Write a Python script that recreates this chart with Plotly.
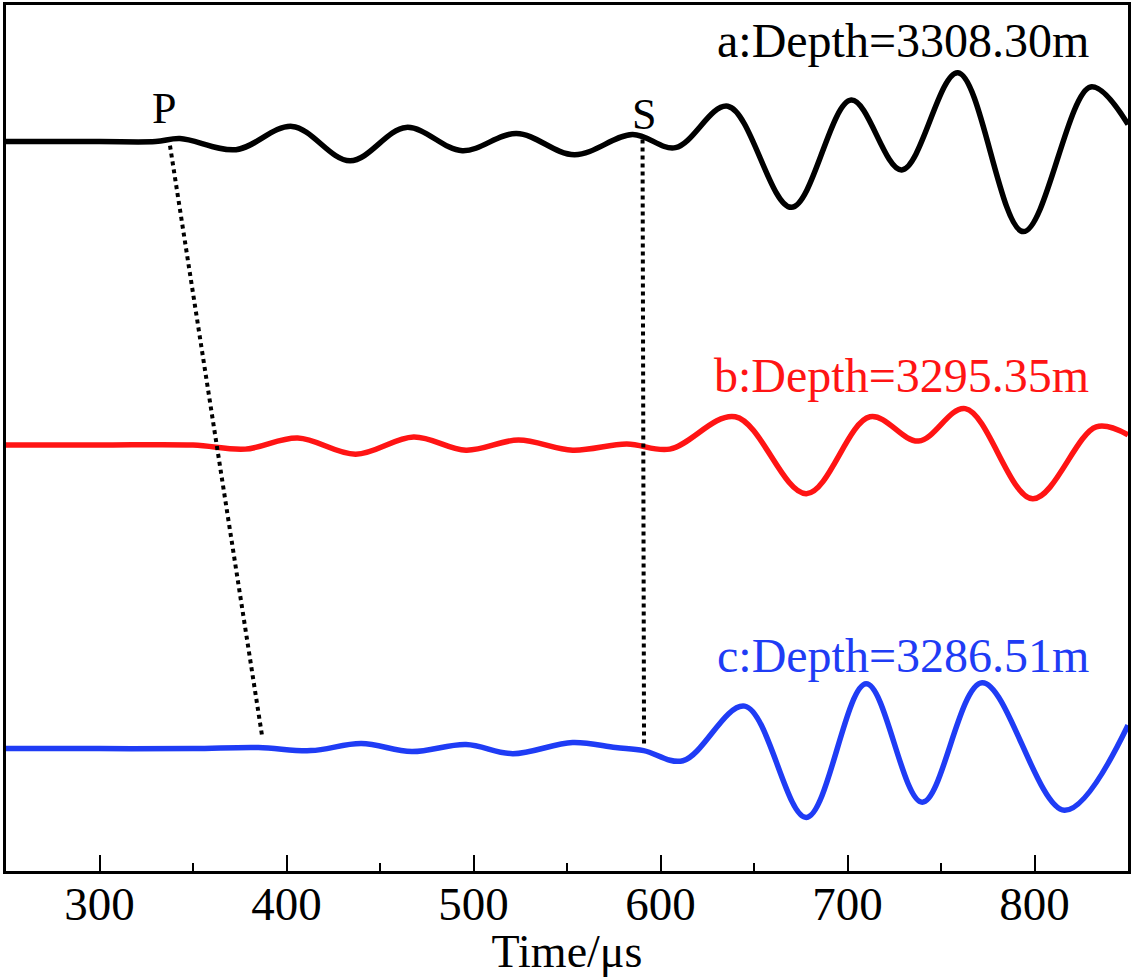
import plotly.graph_objects as go

# waveform readings at the turning points (time in us, relative amplitude)
time_a = [250, 300, 330, 343, 373, 403, 434, 464, 494, 523, 554, 585, 608, 636, 670, 702, 729, 759, 794, 830, 850]
amp_a = [0.0, 0.0, 0.0, 0.03, -0.08, 0.15, -0.19, 0.14, -0.09, 0.08, -0.13, 0.07, -0.06, 0.35, -0.65, 0.41,
         -0.28, 0.68, -0.89, 0.54, 0.17]

time_b = [250, 300, 350, 378, 406, 437, 468, 496, 524, 553, 582, 605, 640, 678, 712, 738, 763, 799, 833, 850]
amp_b = [0.0, 0.0, 0.0, -0.04, 0.07, -0.09, 0.08, -0.05, 0.05, -0.05, 0.01, -0.04, 0.28, -0.48, 0.28, 0.04,
         0.36, -0.53, 0.18, 0.1]

time_c = [250, 300, 350, 385, 413, 440, 467, 496, 521, 553, 576, 591, 612, 645, 678, 710, 740, 772, 816, 850]
amp_c = [0.0, 0.0, 0.0, 0.01, -0.02, 0.05, -0.03, 0.04, -0.05, 0.06, 0.01, -0.02, -0.12, 0.42, -0.68, 0.64,
         -0.53, 0.65, -0.61, 0.23]

trace_names = ["a:Depth=3308.30m", "b:Depth=3295.35m", "c:Depth=3286.51m"]
trace_colors = ["#000000", "#ff1414", "#1f3cf5"]
trace_offsets = [6, 3, 0]

# picked arrivals (time, level) for the P and S guide lines
p_time = [337.7, 386.9]
p_level = [5.96, 0.13]
s_time = [590.4, 591.2]
s_level = [6.02, 0.03]

FONT = "Liberation Serif"

fig = go.Figure()

for (t, amp), name, color, offset in zip([(time_a, amp_a), (time_b, amp_b), (time_c, amp_c)],
                                         trace_names, trace_colors, trace_offsets):
    fig.add_trace(go.Scatter(
        x=t, y=[v + offset for v in amp],
        mode="lines",
        line=dict(color=color, width=5.5, shape="spline", smoothing=1.0),
        name=name,
    ))

for t, lv in [(p_time, p_level), (s_time, s_level)]:
    fig.add_trace(go.Scatter(
        x=t, y=lv, mode="lines",
        line=dict(color="black", width=4, dash="dot"),
    ))

# depth labels, right aligned
label_y = [7.0, 3.69, 0.92]
for name, color, y in zip(trace_names, trace_colors, label_y):
    fig.add_annotation(x=830, y=y, text=name, showarrow=False, xanchor="right", yanchor="middle",
                       font=dict(family=FONT, size=48, color=color))

fig.add_annotation(x=334.5, y=6.33, text="P", showarrow=False,
                   font=dict(family=FONT, size=44, color="black"))
fig.add_annotation(x=591, y=6.27, text="S", showarrow=False,
                   font=dict(family=FONT, size=44, color="black"))

fig.update_layout(
    width=1134,
    height=977,
    showlegend=False,
    plot_bgcolor="white",
    paper_bgcolor="white",
    margin=dict(l=6, r=6, t=2, b=106),
    font=dict(family=FONT, size=46, color="black"),
    xaxis=dict(
        range=[250, 850],
        tickvals=[300, 400, 500, 600, 700, 800],
        ticks="inside", ticklen=16, tickwidth=2, tickcolor="black",
        minor=dict(dtick=50, tick0=0, ticks="inside", ticklen=8, tickwidth=2, tickcolor="black"),
        showline=True, linewidth=2.5, linecolor="black", mirror=True,
        showgrid=False, zeroline=False,
        tickfont=dict(family=FONT, size=47),
        ticklabelstandoff=-10,
        title=dict(text="Time/μs", font=dict(family=FONT, size=46), standoff=0),
    ),
    yaxis=dict(
        range=[-1.21, 7.35],
        showticklabels=False, ticks="",
        showline=True, linewidth=2.5, linecolor="black", mirror=True,
        showgrid=False, zeroline=False,
    ),
)

fig.write_html("out.html", config={"displayModeBar": False},
               post_script="document.body.style.margin='0';document.body.style.overflow='hidden';")
